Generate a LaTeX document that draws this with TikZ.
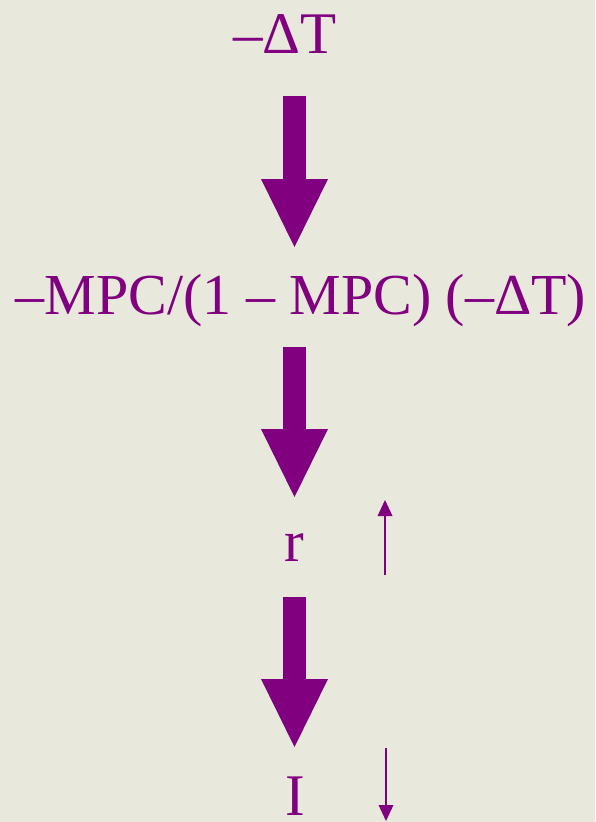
\documentclass[tikz,border=0pt]{standalone}
\usepackage{fontspec}
\setmainfont{Liberation Serif}
\usetikzlibrary{arrows.meta}
\definecolor{bg}{HTML}{E9E8DC}
\definecolor{pur}{HTML}{800080}
\tikzset{
  lbl/.style={text=pur, anchor=base, inner sep=0pt, font=\fontsize{59}{64}\selectfont},
  bigarrow/.style={draw=pur, line width=23pt, -{Triangle[width=67pt,length=68pt,line width=0pt]}},
  smallarrow/.style={draw=pur, line width=2pt, -{Triangle[width=15pt,length=16pt,line width=0pt]}}
}
\begin{document}
\begin{tikzpicture}[x=1pt,y=-1pt]
\fill[bg] (0,0) rectangle (595,822);
\useasboundingbox (0,0) rectangle (595,822);
\node[lbl] (dt) at (285,53) {–ΔT};
\node[lbl, font=\fontsize{58}{64}\selectfont] (mult) at (301,314) {–MPC/(1 – MPC) (–ΔT)};
\node[lbl] (r) at (294,561) {r};
\node[lbl, text depth=0pt] (i) at (295.5,815) {I};
\coordinate (s1) at (294.5,96);
\coordinate (e1) at (294.5,247);
\coordinate (s2) at (294.5,347);
\coordinate (e2) at (294.5,497);
\coordinate (s3) at (294.5,597);
\coordinate (e3) at (294.5,747);
\draw[bigarrow] (s1) -- (e1);
\draw[bigarrow] (s2) -- (e2);
\draw[bigarrow] (s3) -- (e3);
\coordinate (u1) at (385,575);
\coordinate (u2) at (385,500);
\coordinate (d1) at (386,748);
\coordinate (d2) at (386,821);
\draw[smallarrow] (u1) -- (u2);
\draw[smallarrow] (d1) -- (d2);
\end{tikzpicture}
\end{document}
